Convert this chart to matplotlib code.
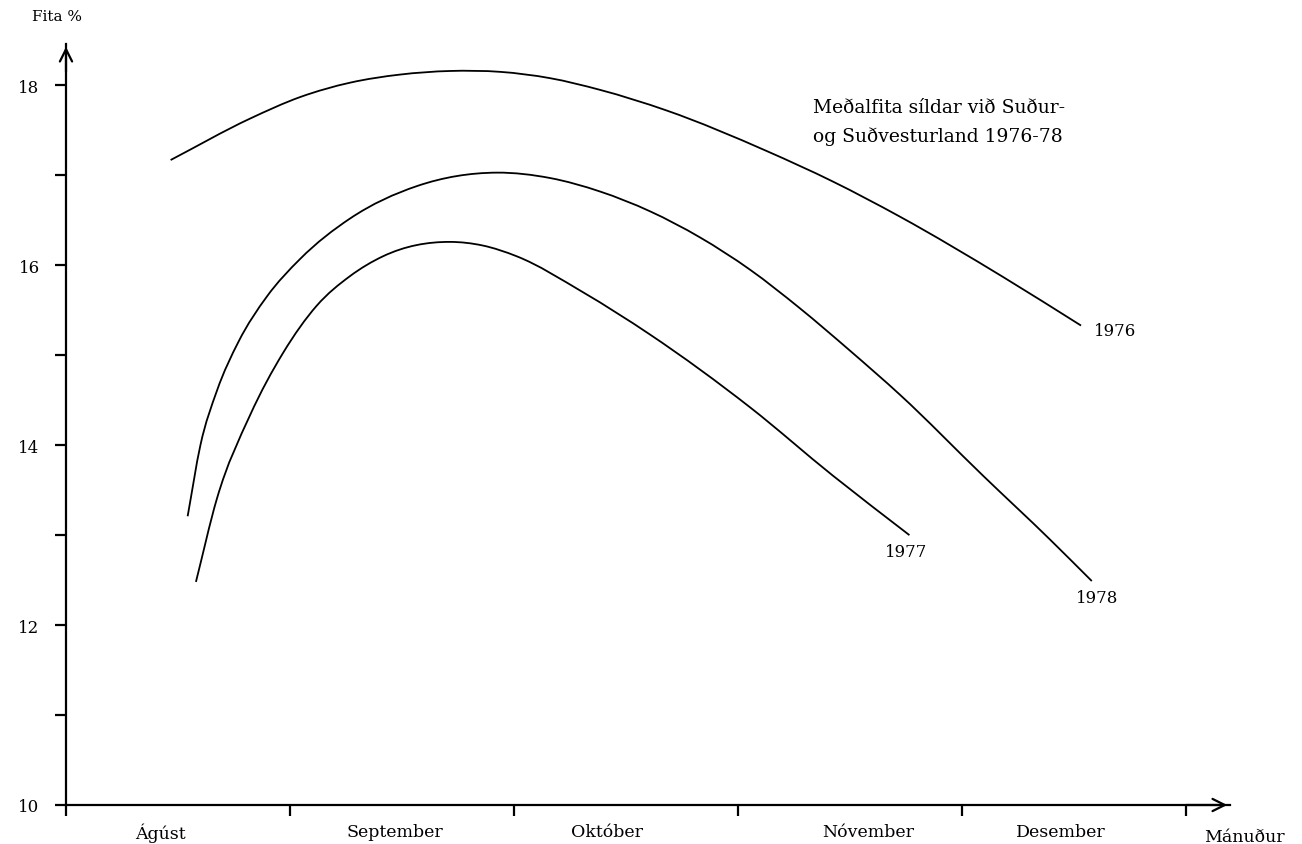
import numpy as np
import matplotlib
matplotlib.use("Agg")
import matplotlib.pyplot as plt
from matplotlib.path import Path
from matplotlib.patches import PathPatch
from matplotlib.ticker import MultipleLocator

plt.rcParams['font.family'] = ['DejaVu Serif']

# x in months from 1 August (0 = start of Ágúst), y = fat %
x_1976 = [0.467, 0.821, 1.045, 1.268, 1.491, 1.714, 1.940, 2.161, 2.384, 2.682, 3.128, 3.424, 3.723, 4.183, 4.531]
y_1976 = [17.17, 17.63, 17.87, 18.03, 18.12, 18.16, 18.15, 18.08, 17.95, 17.72, 17.27, 16.93, 16.54, 15.87, 15.33]

x_1977 = [0.580, 0.673, 0.821, 0.970, 1.119, 1.268, 1.415, 1.714, 1.860, 2.012, 2.308, 2.607, 3.054, 3.424, 3.765]
y_1977 = [12.48, 13.40, 14.33, 15.03, 15.55, 15.88, 16.10, 16.26, 16.22, 16.10, 15.70, 15.23, 14.42, 13.66, 13.00]

x_1978 = [0.543, 0.600, 0.673, 0.770, 0.896, 1.045, 1.268, 1.566, 1.923, 2.161, 2.384, 2.607, 2.830, 3.054,
          3.277, 3.500, 3.723, 4.094, 4.393, 4.579]
y_1978 = [13.21, 14.00, 14.60, 15.15, 15.65, 16.07, 16.52, 16.88, 17.03, 16.97, 16.82, 16.60, 16.31, 15.95,
          15.52, 15.05, 14.56, 13.66, 12.95, 12.49]

months = ['Ágúst', 'September', 'Október', 'Nóvember', 'Desember']
month_pos = [0.42, 1.47, 2.415, 3.58, 4.44]


def smooth_path(xs, ys):
    # cubic Hermite curve through the read points, drawn as Bezier segments
    x = np.asarray(xs, float)
    y = np.asarray(ys, float)
    h = np.diff(x)
    d = np.diff(y) / h
    m = np.empty_like(y)
    m[0], m[-1] = d[0], d[-1]
    m[1:-1] = (d[:-1] * h[1:] + d[1:] * h[:-1]) / (h[:-1] + h[1:])
    verts = [(x[0], y[0])]
    codes = [Path.MOVETO]
    for i in range(len(x) - 1):
        verts += [(x[i] + h[i] / 3, y[i] + m[i] * h[i] / 3),
                  (x[i + 1] - h[i] / 3, y[i + 1] - m[i + 1] * h[i] / 3),
                  (x[i + 1], y[i + 1])]
        codes += [Path.CURVE4] * 3
    return Path(verts, codes)


fig = plt.figure(figsize=(13.02, 8.45), dpi=100)
ax = fig.add_axes([66/1302, 39/845, 1164/1302, 761/845])

for xs, ys in [(x_1976, y_1976), (x_1977, y_1977), (x_1978, y_1978)]:
    ax.add_patch(PathPatch(smooth_path(xs, ys), fill=False, edgecolor='black', lw=1.3,
                           capstyle='butt'))

ax.set_xlim(0, 5.196)
ax.set_ylim(10, 18.46)

for s in ['top', 'right']:
    ax.spines[s].set_visible(False)
for s in ['left', 'bottom']:
    ax.spines[s].set_linewidth(1.6)

# arrow heads on the axes
ax.annotate('', xy=(1, 0), xytext=(0.96, 0), xycoords='axes fraction',
            arrowprops=dict(arrowstyle='->', lw=1.6, mutation_scale=22, color='black'))
ax.annotate('', xy=(0, 1), xytext=(0, 0.96), xycoords='axes fraction',
            arrowprops=dict(arrowstyle='->', lw=1.6, mutation_scale=22, color='black'))

ax.yaxis.set_minor_locator(MultipleLocator(1))
ax.set_yticks([10, 12, 14, 16, 18])
ax.set_yticklabels(['10', '12', '14', '16', '18'])
ax.tick_params(axis='y', which='both', direction='out', length=8, width=1.6, labelsize=12, pad=11)
ax.set_xticks([0, 1, 2, 3, 4, 5])
ax.set_xticklabels([])
ax.tick_params(axis='x', which='both', direction='out', length=8, width=1.6)

for m, p in zip(months, month_pos):
    ax.text(p, 9.70, m, ha='center', va='center', fontsize=12.5, clip_on=False)
ax.text(5.26, 9.645, 'Mánuður', ha='center', va='center', fontsize=12.5, clip_on=False)

fig.text(32/1302, 1 - 17/845, 'Fita %', ha='left', va='center', fontsize=11)

ax.text(3.335, 17.76, 'Meðalfita síldar við Suður-', ha='left', va='center', fontsize=13.5)
ax.text(3.335, 17.44, 'og Suðvesturland 1976-78', ha='left', va='center', fontsize=13.5)

ax.text(4.589, 15.27, '1976', ha='left', va='center', fontsize=12)
ax.text(3.656, 12.82, '1977', ha='left', va='center', fontsize=12)
ax.text(4.509, 12.31, '1978', ha='left', va='center', fontsize=12)

fig.savefig('out.png', dpi=100)
